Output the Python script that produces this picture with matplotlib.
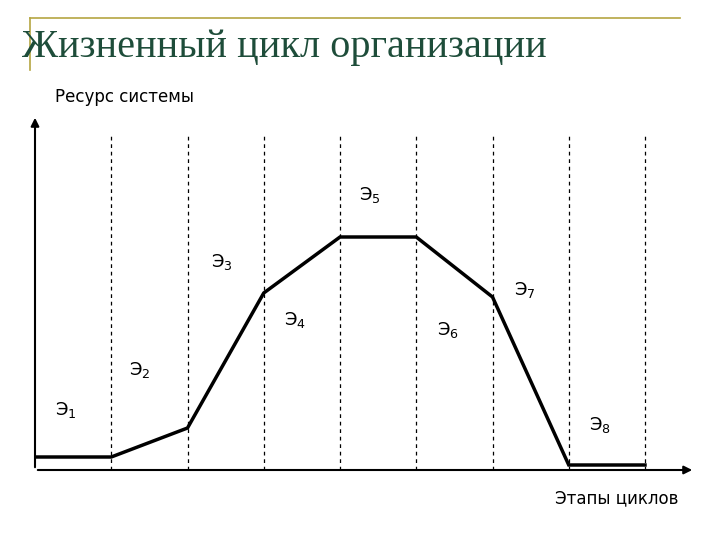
import matplotlib
matplotlib.use("Agg")
import matplotlib.pyplot as plt

stages = [0, 1, 2, 3, 4, 5, 6, 7, 8]
resource = [13, 13, 42, 177, 233, 233, 173, 5, 5]
boundaries = [1, 2, 3, 4, 5, 6, 7, 8]
labels = ["Э$_1$", "Э$_2$", "Э$_3$", "Э$_4$", "Э$_5$", "Э$_6$", "Э$_7$", "Э$_8$"]
label_x = [0.4, 1.38, 2.45, 3.41, 4.39, 5.42, 6.43, 7.41]
label_y = [60, 100, 208, 150, 275, 140, 180, 45]

fig = plt.figure(figsize=(7.2, 5.4), dpi=100)
fig.patch.set_facecolor("white")

fig.add_artist(plt.Line2D([30/720, 680/720], [1-18/540, 1-18/540], color="#b5a642", lw=1.2))
fig.add_artist(plt.Line2D([30/720, 30/720], [1-18/540, 1-70/540], color="#b5a642", lw=1.2))
fig.text(22/720, 1-47/540, "Жизненный цикл организации", family="Liberation Serif",
         fontsize=29, color="#1e4d3a", va="center", ha="left")

ax = fig.add_axes([35/720, 70/540, 660/720, 355/540])
ax.set_xlim(0, 660/76.25)
ax.set_ylim(0, 355)
ax.axis("off")

for b in boundaries:
    ax.plot([b, b], [0, 335], ls=(0, (3, 3)), color="black", lw=0.9)
ax.plot(stages, resource, color="black", lw=2.5, solid_joinstyle="miter")

ax.annotate("", xy=(0, 355), xytext=(0, 0), xycoords="data",
            arrowprops=dict(arrowstyle="-|>", color="black", lw=1.5, mutation_scale=12), annotation_clip=False)
ax.annotate("", xy=(660/76.25, 0), xytext=(0, 0),
            arrowprops=dict(arrowstyle="-|>", color="black", lw=1.5, mutation_scale=12), annotation_clip=False)

for x, y, t in zip(label_x, label_y, labels):
    ax.text(x, y, t, fontsize=13, ha="center", va="center")

fig.text(55/720, 1-97/540, "Ресурс системы", fontsize=12, ha="left", va="center")
fig.text(555/720, 1-498/540, "Этапы циклов", fontsize=12, ha="left", va="center")

fig.savefig("out.png", dpi=100, facecolor="white")
